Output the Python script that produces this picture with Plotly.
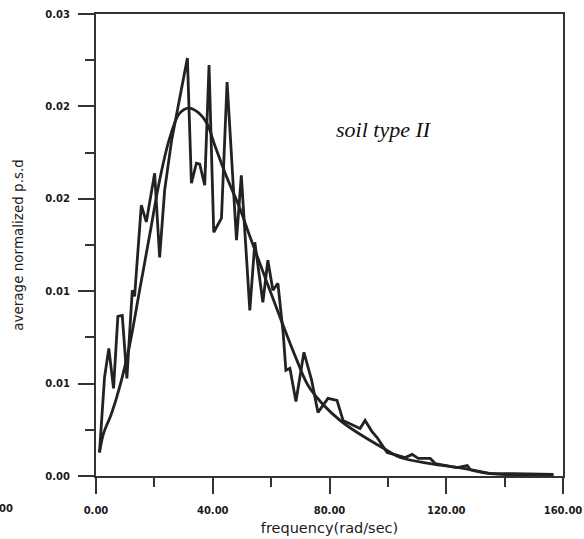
import plotly.graph_objects as go

# Measured average normalized power spectral density (jagged curve)
freq_measured = [1.20, 2.92, 4.39, 6.01, 7.49, 9.00, 10.58, 12.43, 13.22, 15.52,
                 17.24, 20.09, 21.80, 23.52, 25.92, 28.67, 31.31, 32.69, 34.40, 35.54,
                 37.25, 38.73, 40.34, 42.99, 44.91, 48.14, 49.79, 52.70, 54.42, 57.17,
                 58.88, 60.60, 62.32, 64.14, 65.06, 66.44, 68.50, 71.24, 73.89, 76.05,
                 79.48, 82.58, 84.64, 90.47, 92.19, 94.50, 96.31, 99.74, 105.92, 108.33,
                 110.39, 114.51, 116.22, 123.78, 127.21, 128.24, 135.11, 143.01, 156.74]
psd_measured = [0.00153, 0.00640, 0.00829, 0.00569, 0.01037, 0.01043, 0.00634, 0.01206, 0.01167, 0.01758,
                0.01650, 0.01966, 0.01420, 0.01856, 0.02181, 0.02441, 0.02714, 0.01901, 0.02031, 0.02025,
                0.01888, 0.02669, 0.01583, 0.01674, 0.02558, 0.01531, 0.01953, 0.01076, 0.01518, 0.01128,
                0.01401, 0.01206, 0.01251, 0.00926, 0.00686, 0.00699, 0.00484, 0.00803, 0.00621, 0.00413,
                0.00504, 0.00491, 0.00361, 0.00309, 0.00361, 0.00290, 0.00250, 0.00153, 0.00120, 0.00140,
                0.00114, 0.00114, 0.00081, 0.00055, 0.00068, 0.00042, 0.00016, 0.00016, 0.00010]

# Fitted smooth spectrum
freq_fit = [1.20, 2.58, 5.32, 8.07, 11.50, 14.94, 18.37, 21.80, 25.24, 28.67,
            31.76, 34.85, 37.94, 40.69, 44.81, 49.27, 52.70, 59.57, 68.84, 73.30,
            83.61, 99.74, 104.21, 114.51, 125.84, 135.11, 156.74]
psd_fit = [0.00153, 0.00276, 0.00406, 0.00575, 0.00848, 0.01206, 0.01563, 0.01921, 0.02194, 0.02356,
           0.02389, 0.02363, 0.02292, 0.02148, 0.01940, 0.01739, 0.01557, 0.01206, 0.00751, 0.00569,
           0.00361, 0.00166, 0.00120, 0.00081, 0.00049, 0.00016, 0.00003]

x_ticks = [0, 40, 80, 120, 160]
x_minor = [20, 60, 100, 140]
y_ticks = [0.0, 0.006, 0.012, 0.018, 0.024, 0.03]
y_minor = [0.003, 0.009, 0.015, 0.021, 0.027]

ink = "#222222"
axis_ink = "#333333"

fig = go.Figure()
fig.add_trace(go.Scatter(x=freq_measured, y=psd_measured, mode="lines",
                         line=dict(color=ink, width=2.8), showlegend=False))
fig.add_trace(go.Scatter(x=freq_fit, y=psd_fit, mode="lines", line_shape="spline",
                         line=dict(color=ink, width=2.8), showlegend=False))

tick_font = dict(family="DejaVu Sans", size=10, color="#1a1a1a", weight="bold")
title_font = dict(family="DejaVu Sans", size=14.5, color="#1a1a1a")
ytitle_font = dict(family="DejaVu Sans", size=13.5, color="#1a1a1a")

fig.update_layout(
    width=584, height=539,
    margin=dict(l=96, r=21, t=14, b=63, pad=0),
    paper_bgcolor="white", plot_bgcolor="white",
    xaxis=dict(
        range=[0, 160], tickmode="array", tickvals=x_ticks,
        ticktext=[f"{v:.2f}" for v in x_ticks],
        ticks="outside", ticklen=16, tickwidth=2, tickcolor=axis_ink,
        minor=dict(tickmode="array", tickvals=x_minor, ticks="outside",
                   ticklen=9, tickwidth=2, tickcolor=axis_ink, showgrid=False),
        showline=True, linecolor=axis_ink, linewidth=2, mirror=True,
        showgrid=False, zeroline=False, tickfont=tick_font,
        ticklabelstandoff=8,
        title=dict(text="frequency(rad/sec)", font=title_font, standoff=8),
        automargin=False,
    ),
    yaxis=dict(
        range=[0, 0.03], tickmode="array", tickvals=y_ticks,
        ticktext=[f"{v:.2f}" for v in y_ticks],
        ticks="outside", ticklen=16, tickwidth=2, tickcolor=axis_ink,
        minor=dict(tickmode="array", tickvals=y_minor, ticks="outside",
                   ticklen=9, tickwidth=2, tickcolor=axis_ink, showgrid=False),
        showline=True, linecolor=axis_ink, linewidth=2, mirror=True,
        showgrid=False, zeroline=False, tickfont=tick_font,
        ticklabelstandoff=6,
        title=dict(text="average normalized p.s.d", font=ytitle_font, standoff=19),
        automargin=False,
    ),
    annotations=[
        dict(text="soil type II", x=98.5, y=0.0225, xref="x", yref="y",
             showarrow=False, xanchor="center", yanchor="middle",
             font=dict(family="Liberation Serif", size=22, color="#111111",
                       style="italic")),
        # trailing digits of a neighbouring tick label at the left edge
        dict(text="00", x=-99 / 466, y=-32 / 462, xref="paper", yref="paper",
             showarrow=False, xanchor="left", yanchor="middle", font=tick_font),
    ],
)

fig.write_html("out.html")
